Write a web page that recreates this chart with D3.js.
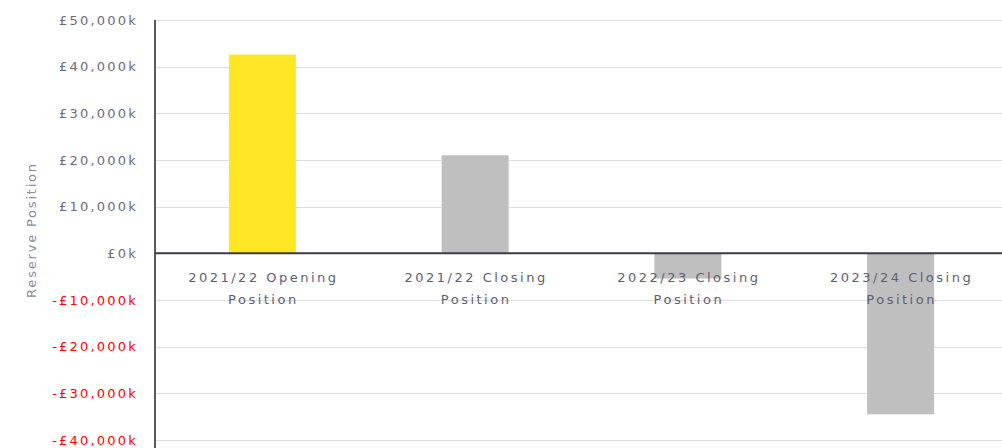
<!DOCTYPE html>
<html><head><meta charset="utf-8">
<script src="https://cdn.jsdelivr.net/npm/d3@7"></script>
<style>body{margin:0;background:#fff;} text{font-family:"DejaVu Sans",Verdana,sans-serif;}</style>
</head><body>
<svg id="c" width="1002" height="448"></svg>
<script>
const categories = ["2021/22 Opening Position", "2021/22 Closing Position", "2022/23 Closing Position", "2023/24 Closing Position"];
const values = [42600, 21000, -5400, -34500];
const barColors = ["#fde725", "#bfbfbf", "#bfbfbf", "#bfbfbf"];
const tickValues = [50000, 40000, 30000, 20000, 10000, 0, -10000, -20000, -30000, -40000];
const yTitle = "Reserve Position";

(function() {
const svg = d3.select("#c");
const mLeft = 155, mRight = 1002, mTop = 20, mBottom = 440;
const y = d3.scaleLinear().domain([-40000, 50000]).range([mBottom, mTop]);
const x = d3.scaleBand().domain(categories).range([mLeft + 1, mRight + 5]).paddingInner(0.685).paddingOuter(0.3425);

const fmt = v => (v < 0 ? "-" : "") + "£" + d3.format(",")(Math.abs(v)) + "k";

// gridlines
svg.append("g").selectAll("line").data(tickValues).join("line")
  .attr("x1", mLeft).attr("x2", mRight)
  .attr("y1", d => Math.round(y(d)) + 0.5).attr("y2", d => Math.round(y(d)) + 0.5)
  .attr("stroke", "#dcdce4").attr("stroke-width", 1.2);

// bars
svg.append("g").selectAll("rect").data(values).join("rect")
  .attr("x", (d, i) => x(categories[i]))
  .attr("width", x.bandwidth())
  .attr("y", d => y(Math.max(0, d)))
  .attr("height", d => Math.abs(y(d) - y(0)))
  .attr("fill", (d, i) => barColors[i]);

// y axis
const yAxis = d3.axisLeft(y).tickValues(tickValues).tickSize(0).tickPadding(17).tickFormat(fmt);
const ga = svg.append("g").attr("transform", `translate(${mLeft},0)`).call(yAxis);
ga.select(".domain").remove();
ga.selectAll("text").attr("font-size", 13).attr("letter-spacing", 2.2)
  .attr("fill", d => d < 0 ? "#ff0000" : "#6b6b7e");

svg.append("line").attr("x1", mLeft).attr("x2", mLeft).attr("y1", mTop).attr("y2", 448)
  .attr("stroke", "#595964").attr("stroke-width", 2);

// zero line
svg.append("line").attr("x1", mLeft).attr("x2", mRight).attr("y1", y(0)).attr("y2", y(0))
  .attr("stroke", "#3c3c44").attr("stroke-width", 2);

// category labels
const lab = svg.append("g").selectAll("text").data(categories).join("text")
  .attr("x", d => x(d) + x.bandwidth() / 2 + 1)
  .attr("y", y(0) + 29)
  .attr("text-anchor", "middle").attr("font-size", 13).attr("letter-spacing", 2.5).attr("fill", "#5e5e72");
lab.each(function(d) {
  const parts = d.split(" ");
  const line1 = parts.slice(0, parts.length - 1).join(" ");
  const line2 = parts[parts.length - 1];
  const t = d3.select(this);
  t.append("tspan").attr("x", t.attr("x")).text(line1);
  t.append("tspan").attr("x", t.attr("x")).attr("dy", 22).text(line2);
});

// y title
svg.append("text").attr("transform", `translate(36,230) rotate(-90)`)
  .attr("text-anchor", "middle").attr("font-size", 13).attr("letter-spacing", 1.8)
  .attr("fill", "#8a8a9a").text(yTitle);
})();
</script>
</body></html>
